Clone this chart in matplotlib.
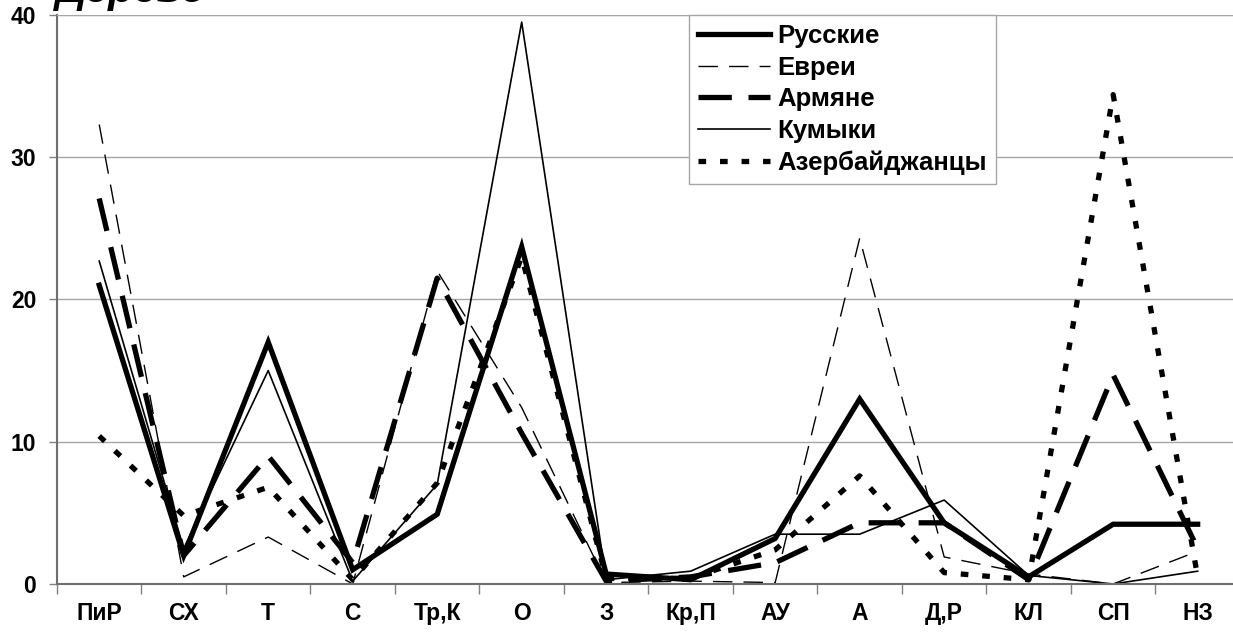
import matplotlib
matplotlib.use("Agg")
import matplotlib.pyplot as plt
import numpy as np

plt.rcParams['font.family'] = ['Liberation Sans', 'DejaVu Sans']
plt.rcParams['font.weight'] = 'bold'
plt.rcParams['lines.scale_dashes'] = False

categories = ['ПиР', 'СХ', 'Т', 'С', 'Тр,К', 'О', 'З', 'Кр,П', 'АУ', 'А', 'Д,Р', 'КЛ', 'СП', 'НЗ']

russians = [21.0, 2.0, 17.0, 1.0, 4.9, 23.7, 0.7, 0.3, 3.2, 13.0, 4.3, 0.5, 4.2, 4.2]
jews = [32.3, 0.5, 3.3, 0.0, 22.0, 12.4, 0.1, 0.2, 0.1, 24.3, 1.9, 0.7, 0.0, 2.3]
armenians = [27.1, 2.0, 9.0, 1.5, 21.5, 10.6, 0.2, 0.5, 1.5, 4.3, 4.3, 0.3, 14.7, 2.5]
kumyks = [22.7, 2.5, 15.0, 0.2, 7.0, 39.5, 0.3, 0.9, 3.5, 3.5, 5.9, 0.6, 0.0, 0.9]
azerbaijanis = [10.4, 4.8, 6.8, 0.3, 7.1, 23.0, 0.4, 0.4, 2.4, 7.6, 0.8, 0.3, 34.4, 0.5]

series_names = ['Русские', 'Евреи', 'Армяне', 'Кумыки', 'Азербайджанцы']

fig = plt.figure(figsize=(12.33, 6.34), dpi=100)
ax = fig.add_axes([0.0462, 0.0789, 0.9594, 0.8975])

x = np.arange(len(categories))
ax.plot(x, russians, color='black', lw=3.8, solid_joinstyle='miter', label=series_names[0])
ax.plot(x, jews, color='black', lw=1.0, linestyle=(0, (14, 8)), label=series_names[1])
ax.plot(x, armenians, color='black', lw=3.8, linestyle=(0, (24, 12)), label=series_names[2])
ax.plot(x, kumyks, color='black', lw=1.2, label=series_names[3])
ax.plot(x, azerbaijanis, color='black', lw=3.8, linestyle=(0, (5.5, 10)), label=series_names[4])

ax.set_xlim(-0.5, len(categories) - 0.5)
ax.set_ylim(0, 40)
ax.set_yticks([0, 10, 20, 30, 40])
ax.set_xticks(x)
ax.set_xticklabels(categories)
ax.set_xticks(np.arange(-0.5, len(categories), 1.0), minor=True)
ax.tick_params(axis='x', which='major', length=0, pad=13, labelsize=16.5)
ax.tick_params(axis='x', which='minor', length=7, width=1, color='#808080', direction='out')
ax.tick_params(axis='y', length=6, width=1, color='#808080', pad=9, labelsize=16.5)

ax.grid(axis='y', color='#a6a6a6', lw=1)
ax.set_axisbelow(True)
for side in ['left', 'bottom']:
    ax.spines[side].set_color('#6e6e6e')
    ax.spines[side].set_linewidth(1.5)
ax.spines['top'].set_color('#a6a6a6')
ax.spines['right'].set_visible(False)

leg = ax.legend(loc='upper left', bbox_to_anchor=(0.534, 1.0), borderaxespad=0,
                fontsize=18.5, handlelength=2.8, handletextpad=0.3, labelspacing=0.3,
                borderpad=0.35, fancybox=False, framealpha=1, edgecolor='#a6a6a6')
leg.get_frame().set_linewidth(1)

# title, cut off at the top edge as in the source picture
fig.text(0.045, 0.997, 'Дерево', fontsize=30, fontstyle='italic', fontweight='bold',
         ha='left', va='baseline')

fig.savefig('out.png', dpi=100)
